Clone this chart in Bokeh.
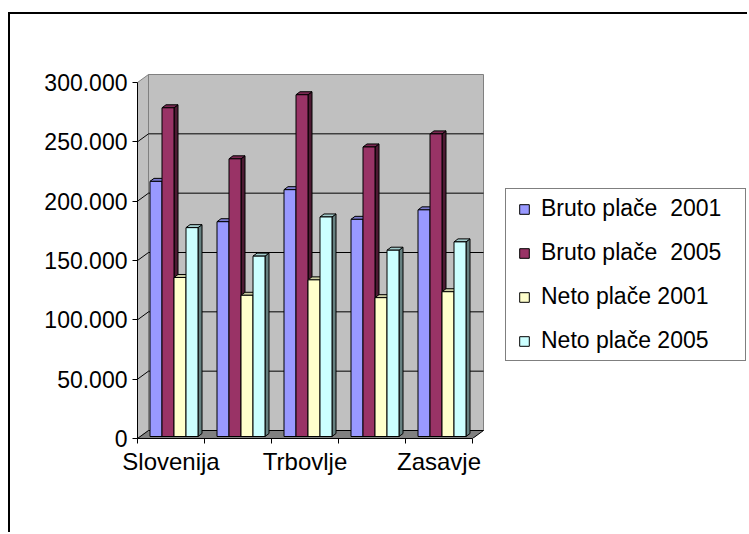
import numpy as np
from bokeh.plotting import figure
from bokeh.models import (FixedTicker, CustomJSTickFormatter, Legend, LegendItem,
                          ColumnDataSource, Range1d)
from bokeh.embed import file_html
from bokeh.resources import INLINE

# ---------------- data ----------------
categories = ["Slovenija", "Hrastnik", "Trbovlje", "Zagorje", "Zasavje"]
labelled_categories = ["Slovenija", "Trbovlje", "Zasavje"]
series_names = ["Bruto plače  2001", "Bruto plače  2005", "Neto plače 2001", "Neto plače 2005"]
bruto_2001 = [215000, 181000, 208000, 183000, 191000]
bruto_2005 = [277000, 234000, 288000, 244000, 255000]
neto_2001 = [134000, 119000, 132000, 117000, 122000]
neto_2005 = [176000, 152000, 185000, 157000, 164000]
series_values = [bruto_2001, bruto_2005, neto_2001, neto_2005]
y_ticks = [0, 50000, 100000, 150000, 200000, 250000, 300000]

front_colors = ["#9999FF", "#993366", "#FFFFCC", "#CCFFFF"]
top_colors = ["#7A7ACC", "#7A2952", "#CCCCA3", "#A3CCCC"]
side_colors = ["#4D4D80", "#4D1A33", "#808066", "#668080"]

FONT = "Liberation Sans"

# ---------------- geometry (pixels) ----------------
W, H = 739, 520
LEFT, TOP, BOTTOM, RIGHT = 127, 40, 96, 0
frame_w = W - LEFT - RIGHT
frame_h = H - TOP - BOTTOM
PX_X = 67.0                    # px per category
PX_Y = 356.0 / 300000.0        # px per value unit
x_end = frame_w / PX_X
y_end = frame_h / PX_Y
ncat = len(categories)
ymax = y_ticks[-1]

dx, dy = 11 / PX_X, 8 / PX_Y   # wall depth
fx, fy = 3 / PX_X, 2 / PX_Y    # bar front offset
bx, by = 4 / PX_X, 3 / PX_Y    # bar depth
bw = 12 / PX_X                 # bar width

p = figure(width=W, height=H, output_backend="svg", toolbar_location=None,
           x_range=Range1d(0, x_end), y_range=Range1d(0, y_end),
           min_border_left=LEFT, min_border_right=RIGHT,
           min_border_top=TOP, min_border_bottom=BOTTOM,
           background_fill_color="white", border_fill_color="white",
           styles={"border-top": "2px solid black", "border-left": "2px solid black",
                   "margin-top": "12px", "margin-left": "8px"})
p.outline_line_color = None
p.xgrid.visible = False
p.ygrid.visible = False

# ---------------- walls ----------------
p.quad(left=[dx], right=[ncat + dx], bottom=[dy], top=[ymax + dy],
       fill_color="#C0C0C0", line_color="#808080", line_width=1)
p.patch(x=[0, dx, dx, 0], y=[0, dy, ymax + dy, ymax],
        fill_color="#C0C0C0", line_color="#808080", line_width=1)
p.patch(x=[0, ncat, ncat + dx, dx], y=[0, 0, dy, dy],
        fill_color="#808080", line_color="black", line_width=1)
grid_vals = y_ticks[1:-1]
p.multi_line(xs=[[0, dx, ncat + dx] for v in grid_vals],
             ys=[[v, v + dy, v + dy] for v in grid_vals],
             line_color="black", line_width=1)

# ---------------- bars ----------------
nser = len(series_values)
legend_items = []
for k, vals in enumerate(series_values):
    L = [i + 0.5 - nser / 2 * bw + k * bw + fx for i in range(ncat)]
    R = [l + bw for l in L]
    T = [v + fy for v in vals]
    B = fy
    side_xs = [[r, r + bx, r + bx, r] for r in R]
    side_ys = [[B, B + by, t + by, t] for t in T]
    top_xs = [[l, r, r + bx, l + bx] for l, r in zip(L, R)]
    top_ys = [[t, t, t + by, t + by] for t in T]
    p.patches(xs=side_xs, ys=side_ys, fill_color=side_colors[k], line_color="black", line_width=1)
    p.patches(xs=top_xs, ys=top_ys, fill_color=top_colors[k], line_color="black", line_width=1)
    p.quad(left=L, right=R, bottom=B, top=T, fill_color=front_colors[k],
           line_color="black", line_width=1)
    # legend swatch renderer (no visible point on the plot)
    dummy = p.scatter(x="x", y="y",
                      source=ColumnDataSource(data=dict(x=np.array([np.nan]), y=np.array([np.nan]))),
                      marker="square", size=9, fill_color=front_colors[k],
                      line_color="black", line_width=1)
    legend_items.append(LegendItem(label=series_names[k], renderers=[dummy]))

# ---------------- axes ----------------
ya = p.yaxis[0]
ya.ticker = FixedTicker(ticks=y_ticks)
ya.bounds = (0, ymax)
ya.formatter = CustomJSTickFormatter(code="""
    return Math.round(tick).toString().replace(/\\B(?=(\\d{3})+(?!\\d))/g, ".");
""")
ya.major_tick_out = 5
ya.major_tick_in = 0
ya.minor_tick_out = 0
ya.minor_tick_in = 0
ya.major_label_standoff = 5
ya.axis_line_color = "black"
ya.major_tick_line_color = "black"
ya.major_label_text_font = FONT
ya.major_label_text_font_size = "23px"
ya.major_label_text_color = "black"

xa = p.xaxis[0]
label_pos = [categories.index(c) + 0.5 for c in labelled_categories]
xa.ticker = FixedTicker(ticks=label_pos, minor_ticks=list(range(ncat + 1)))
xa.bounds = (0, ncat)
xa.formatter = CustomJSTickFormatter(args=dict(cats=categories),
                                     code="return cats[Math.floor(tick)];")
xa.major_tick_out = 0
xa.major_tick_in = 0
xa.minor_tick_out = 5
xa.minor_tick_in = 0
xa.minor_tick_line_color = "black"
xa.major_label_standoff = 4
xa.axis_line_color = "black"
xa.major_label_text_font = FONT
xa.major_label_text_font_size = "24px"
xa.major_label_text_color = "black"

# ---------------- legend ----------------
legend = Legend(items=legend_items, location=(368, 77),
                label_text_font=FONT, label_text_font_size="23px",
                label_text_color="black",
                glyph_width=24, glyph_height=26, label_height=26, label_width=198,
                spacing=17, padding=6, label_standoff=5,
                border_line_color="black", border_line_width=1,
                background_fill_color="white", background_fill_alpha=1.0,
                margin=0)
p.add_layout(legend)

open("out.html", "w").write(file_html(p, INLINE))
